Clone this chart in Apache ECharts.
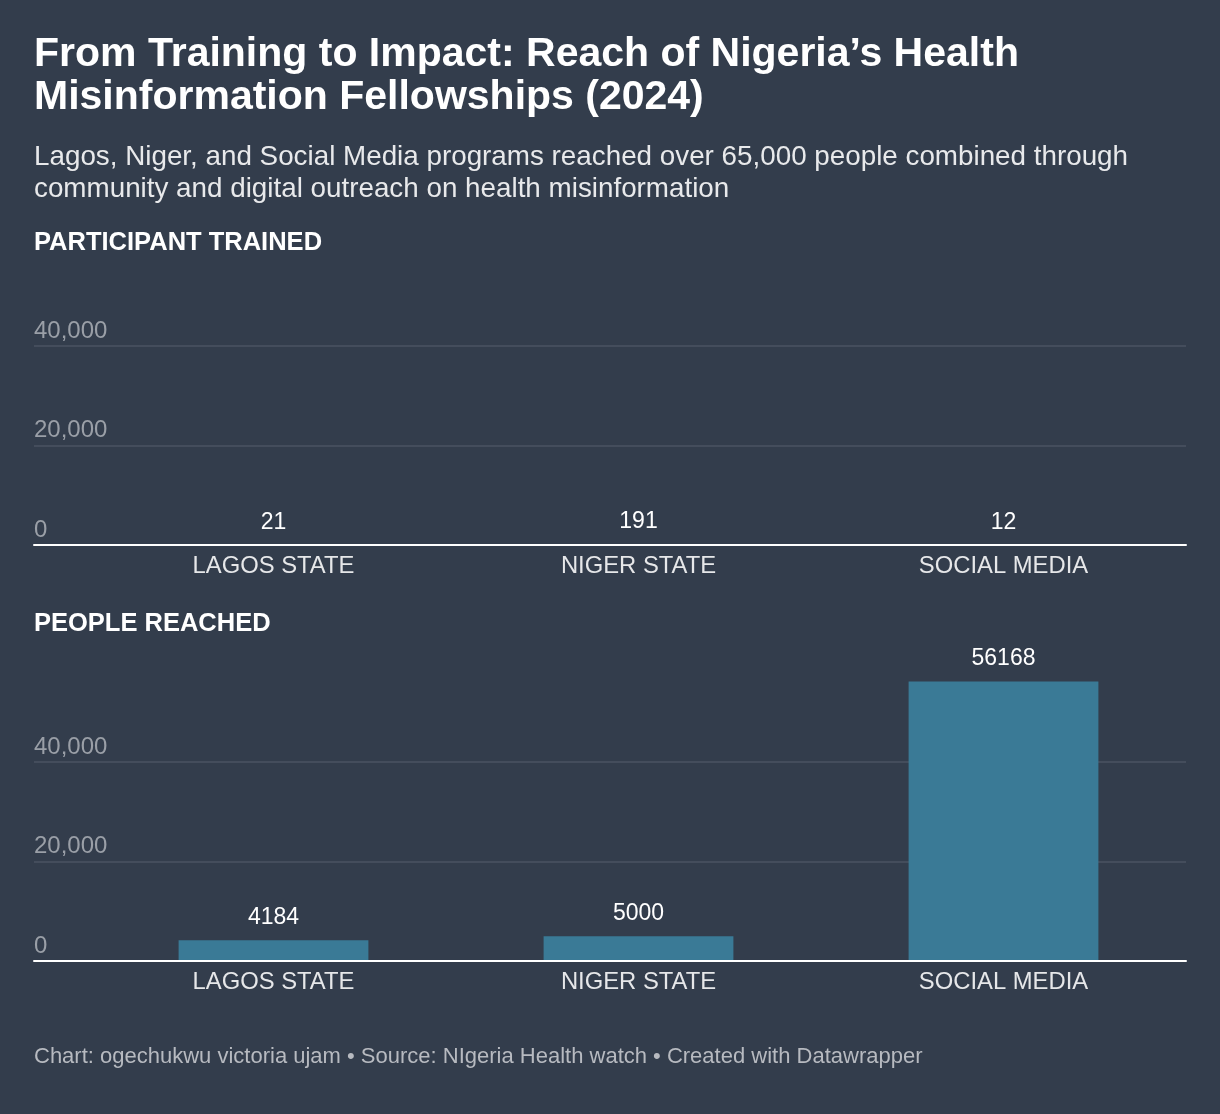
<!DOCTYPE html>
<html>
<head>
<meta charset="utf-8">
<script src="https://cdn.jsdelivr.net/npm/echarts@6/dist/echarts.min.js"></script>
<style>
html,body{margin:0;padding:0;background:#333d4c;}
#chart{width:1220px;height:1114px;}
</style>
</head>
<body>
<div id="chart"></div>
<script>
const categories = ['LAGOS STATE', 'NIGER STATE', 'SOCIAL MEDIA'];
const participantsTrained = [21, 191, 12];
const peopleReached = [4184, 5000, 56168];
const yTicks = [0, 20000, 40000];

const titleText = 'From Training to Impact: Reach of Nigeria\u2019s Health\nMisinformation Fellowships (2024)';
const subtitleText = 'Lagos, Niger, and Social Media programs reached over 65,000 people combined through\ncommunity and digital outreach on health misinformation';
const footerText = 'Chart: ogechukwu victoria ujam \u2022 Source: NIgeria Health watch \u2022 Created with Datawrapper';

const FONT = '"Liberation Sans", Arial, Helvetica, sans-serif';
const W = 1220, H = 1114;
const pxPerUnit = 99.5 / 20000;
const sharedMax = Math.max(...participantsTrained, ...peopleReached);
const tickMax = yTicks[yTicks.length - 1];
const tickStep = yTicks[1] - yTicks[0];

const panels = [
  { name: 'PARTICIPANT TRAINED', data: participantsTrained, baseline: 545, headerTop: 229 },
  { name: 'PEOPLE REACHED', data: peopleReached, baseline: 961, headerTop: 610 }
];

const grids = [], xAxes = [], yAxes = [], series = [], titles = [];

titles.push({
  text: titleText, left: 34, top: 33, padding: 0,
  textStyle: { color: '#ffffff', fontFamily: FONT, fontSize: 41, fontWeight: 'bold', lineHeight: 43 }
});
titles.push({
  text: subtitleText, left: 34, top: 141, padding: 0,
  textStyle: { color: '#e8e9eb', fontFamily: FONT, fontSize: 27.8, fontWeight: 'normal', lineHeight: 32 }
});
titles.push({
  text: footerText, left: 34, top: 1045, padding: 0,
  textStyle: { color: '#b7bac0', fontFamily: FONT, fontSize: 22, fontWeight: 'normal', lineHeight: 24 }
});

panels.forEach((p, i) => {
  titles.push({
    text: p.name, left: 34, top: p.headerTop, padding: 0,
    textStyle: { color: '#ffffff', fontFamily: FONT, fontSize: 25.5, fontWeight: 'bold', lineHeight: 28 }
  });
  const bottom = H - p.baseline;
  // background grid: gridlines + y labels + full-width baseline
  grids.push({ left: 34, right: 34, bottom: bottom, height: tickMax * pxPerUnit, containLabel: false });
  // bar grid
  grids.push({ left: 91, right: 34, bottom: bottom, height: sharedMax * pxPerUnit, containLabel: false });
  const gA = i * 2, gB = i * 2 + 1;
  xAxes.push({
    type: 'category', gridIndex: gA, data: categories, z: 5,
    axisLine: { show: true, lineStyle: { color: '#ffffff', width: 2 } },
    axisTick: { show: false }, axisLabel: { show: false }, splitLine: { show: false }
  });
  yAxes.push({
    type: 'value', gridIndex: gA, min: yTicks[0], max: tickMax, interval: tickStep,
    axisLine: { show: false }, axisTick: { show: false },
    axisLabel: {
      inside: true, margin: 0, color: '#9a9fa7', fontFamily: FONT, fontSize: 24,
      verticalAlign: 'bottom', lineHeight: 24, padding: [0, 0, 3, 0],
      formatter: v => v.toLocaleString('en-US')
    },
    splitLine: { show: true, lineStyle: { color: '#4b5362', width: 1.5 } }
  });
  xAxes.push({
    type: 'category', gridIndex: gB, data: categories,
    axisLine: { show: false }, axisTick: { show: false },
    axisLabel: { color: '#e6e7e9', fontFamily: FONT, fontSize: 23.8, margin: 9 },
    splitLine: { show: false }
  });
  yAxes.push({
    type: 'value', gridIndex: gB, min: 0, max: sharedMax, show: false,
    splitLine: { show: false }
  });
  series.push({
    type: 'bar', xAxisIndex: gB, yAxisIndex: gB, data: p.data,
    barCategoryGap: '48%',
    itemStyle: { color: '#3a7a96' },
    label: {
      show: true, position: 'top', distance: 11, color: '#ffffff',
      fontFamily: FONT, fontSize: 23
    },
    silent: true, animation: false
  });
});

const chart = echarts.init(document.getElementById('chart'), null, { renderer: 'canvas' });
chart.setOption({
  backgroundColor: '#333d4c',
  animation: false,
  title: titles,
  grid: grids,
  xAxis: xAxes,
  yAxis: yAxes,
  series: series
});
</script>
</body>
</html>
